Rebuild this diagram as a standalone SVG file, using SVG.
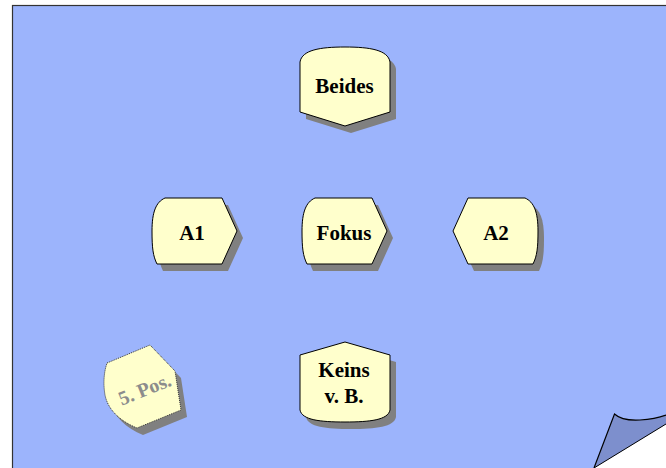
<svg xmlns="http://www.w3.org/2000/svg" width="666" height="468" viewBox="0 0 666 468">
<style>
.shadow{fill:#808080;stroke:none}
.node{fill:#ffffcc;stroke:#000;stroke-width:1}
.lbl{font-family:"Liberation Serif","Times New Roman",serif;font-weight:bold;font-size:21px;fill:#000;text-anchor:middle}
</style>
<defs>
<path id="hexL" d="M165,198 L222,198 L237,231 L222,264 L157,264 C153,256 152,248 152,231 C152,212 156,202 165,198 Z"/>
</defs>
<rect x="0" y="0" width="666" height="468" fill="#ffffff"/>
<g id="page">
<rect x="12.5" y="5.5" width="700" height="520" fill="#9cb4fc" stroke="#333" stroke-width="1.2"/>
<polygon points="594,468 666,424 666,468" fill="#ffffff"/>
<path d="M594,468 L614.5,414 Q622,421 640,420 Q655,419 666,415 L666,424 Z" fill="#7d8fcd" stroke="none"/>
<path d="M594,468 L614.5,414 Q622,421 640,420 Q655,419 666,415" fill="none" stroke="#000" stroke-width="1.2"/>
<line x1="594" y1="468" x2="666" y2="424" stroke="#000" stroke-width="1"/>
</g>
<g id="connectors"></g>
<g id="beides">
<path class="shadow" transform="translate(6,7)" d="M300,62 C302,50 320,47 345,47 C370,47 388,50 390,62 L390,112 L345,126 L300,112 Z"/>
<path class="node" d="M300,62 C302,50 320,47 345,47 C370,47 388,50 390,62 L390,112 L345,126 L300,112 Z"/>
<text class="lbl" x="344.5" y="93">Beides</text>
</g>
<g id="a1">
<use href="#hexL" class="shadow" transform="translate(6,7)"/>
<use href="#hexL" class="node"/>
<text class="lbl" x="192" y="240">A1</text>
</g>
<g id="fokus">
<use href="#hexL" class="shadow" transform="translate(156,7)"/>
<use href="#hexL" class="node" transform="translate(150,0)"/>
<text class="lbl" x="344" y="240">Fokus</text>
</g>
<g id="a2">
<use href="#hexL" class="shadow" transform="translate(696,7) scale(-1,1)"/>
<use href="#hexL" class="node" transform="translate(690,0) scale(-1,1)"/>
<text class="lbl" x="496" y="240">A2</text>
</g>
<g id="keins">
<path class="shadow" transform="translate(6,7)" d="M300,355 L345,342 L390,355 L390,410 C388,420 370,422 345,422 C320,422 302,420 300,410 Z"/>
<path class="node" d="M300,355 L345,342 L390,355 L390,410 C388,420 370,422 345,422 C320,422 302,420 300,410 Z"/>
<text class="lbl" x="344" y="377">Keins</text>
<text class="lbl" x="344" y="403">v. B.</text>
</g>
<g id="pos5">
<path class="shadow" transform="translate(6,7)" d="M107,363 L150,345 L175,371 L181,410 L137,428 C120,421 108,410 105,395 C103,383 104,372 107,363 Z"/>
<path d="M107,363 L150,345 L175,371 L181,410 L137,428 C120,421 108,410 105,395 C103,383 104,372 107,363 Z" fill="#ffffcc" stroke="#333" stroke-width="1" stroke-dasharray="1,1"/>
<text class="lbl" transform="translate(145,390) rotate(-22)" x="0" y="6" style="fill:#8c8c8c;font-size:20px">5. Pos.</text>
</g>
</svg>
